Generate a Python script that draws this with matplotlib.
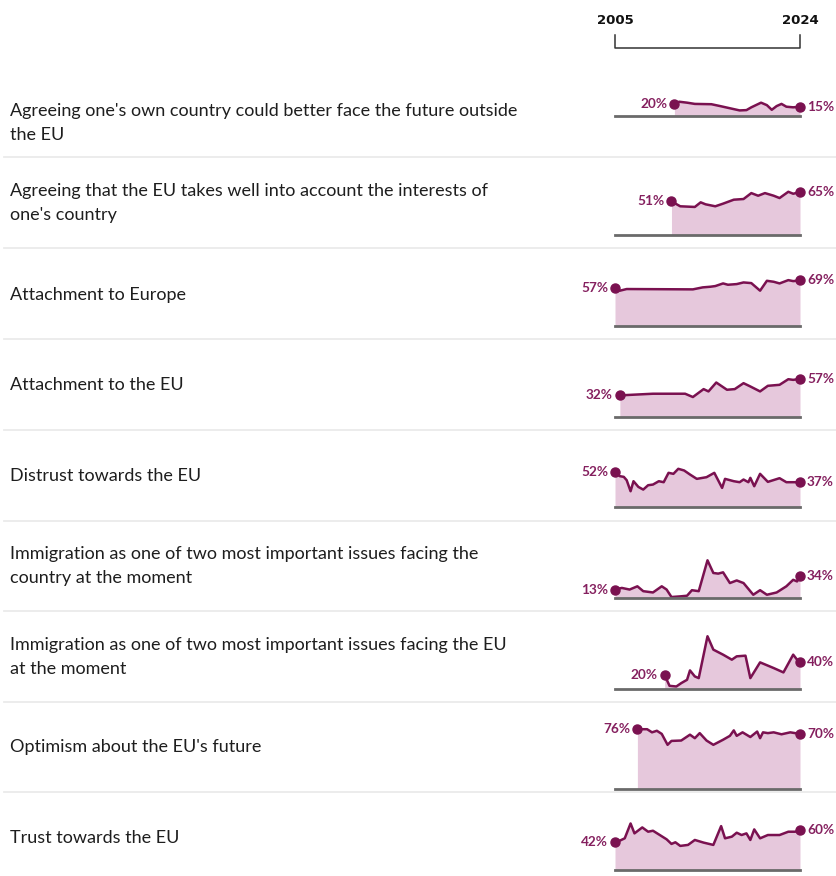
import matplotlib.pyplot as plt
from matplotlib.lines import Line2D

# ---- data (Eurobarometer shares, %) ----
labels = [
    "Agreeing one's own country could better face the future outside\nthe EU",
    "Agreeing that the EU takes well into account the interests of\none's country",
    "Attachment to Europe",
    "Attachment to the EU",
    "Distrust towards the EU",
    "Immigration as one of two most important issues facing the\ncountry at the moment",
    "Immigration as one of two most important issues facing the EU\nat the moment",
    "Optimism about the EU's future",
    "Trust towards the EU",
]

years_outside = [2011.1, 2011.6, 2012.4, 2013.2, 2014.9, 2015.8, 2016.8, 2017.8, 2018.5, 2019.0,
                 2020.0, 2020.6, 2021.1, 2021.6, 2022.1, 2022.6, 2023.3, 2024.0]
vals_outside = [20, 23, 21.5, 19.5, 19, 16, 12.5, 9, 9.5, 14, 21.5, 17.5, 10, 16, 19.5, 15, 14, 15]

years_interests = [2010.8, 2011.7, 2013.2, 2013.8, 2014.3, 2015.3, 2016.1, 2017.2, 2018.2, 2019.0,
                   2019.7, 2020.4, 2021.3, 2021.9, 2022.8, 2023.3, 2024.0]
vals_interests = [51, 43.5, 42.5, 49.5, 46.5, 43.5, 47.5, 53.5, 54.5, 63.5, 59.5, 63.5, 59.5, 56,
                  65.5, 62.5, 65]

years_europe = [2005.0, 2005.5, 2006.2, 2013.0, 2014.0, 2014.8, 2015.3, 2016.1, 2016.6, 2017.5,
                2018.2, 2019.0, 2019.9, 2020.6, 2021.3, 2021.9, 2022.8, 2023.3, 2024.0]
vals_europe = [57, 53.5, 56, 55.5, 58.5, 59.5, 60.5, 64.5, 62.5, 63.5, 66, 65, 53.5, 68.5, 67,
               64.5, 69.5, 68, 69]

years_eu = [2005.5, 2008.9, 2012.2, 2013.0, 2014.1, 2014.6, 2015.4, 2016.5, 2017.3, 2018.2,
            2018.9, 2019.9, 2020.7, 2021.9, 2022.8, 2023.3, 2024.0]
vals_eu = [32, 34.5, 34.5, 29.5, 41.5, 38, 51.5, 40.5, 41.5, 50.5, 45.5, 38, 46.5, 48, 56.5,
           55.5, 57]

years_distrust = [2005.0, 2005.5, 2005.9, 2006.2, 2006.6, 2006.9, 2007.4, 2007.9, 2008.4, 2008.9,
                  2009.5, 2010.0, 2010.5, 2011.0, 2011.5, 2012.1, 2012.7, 2013.4, 2014.4, 2015.2,
                  2016.0, 2016.3, 2017.2, 2017.8, 2018.2, 2018.7, 2018.9, 2019.3, 2019.9, 2020.7,
                  2021.9, 2022.6, 2023.3, 2024.0]
vals_distrust = [52, 46, 45, 40, 23.5, 38.5, 30, 26, 32.5, 33.5, 38.5, 37, 51, 49.5, 57, 54.5,
                 48.5, 42, 44.5, 51, 28.5, 42, 38.5, 37, 41, 37, 43.5, 31, 49.5, 37.5, 43, 37,
                 37, 37]

years_imm_country = [2005.0, 2005.7, 2006.5, 2007.3, 2007.9, 2008.9, 2009.8, 2010.3, 2010.8, 2011.7,
                     2012.4, 2012.9, 2013.6, 2014.5, 2015.1, 2015.6, 2016.1, 2016.8, 2017.5, 2018.2,
                     2019.2, 2019.9, 2020.6, 2021.6, 2022.6, 2023.3, 2023.7, 2024.0]
vals_imm_country = [13, 15.5, 13, 18, 10.5, 8.5, 18, 13, 1.5, 2.5, 3.5, 12, 10.5, 58, 38.5, 37.5,
                    39.5, 23, 27, 23, 5, 12, 5, 8.5, 18, 28, 25.5, 34]

years_imm_eu = [2010.1, 2010.6, 2011.3, 2011.8, 2012.4, 2012.7, 2013.2, 2013.6, 2014.5, 2015.1,
                2016.1, 2017.0, 2017.5, 2018.4, 2018.9, 2019.9, 2021.3, 2022.3, 2023.3, 2023.7,
                2024.0]
vals_imm_eu = [20, 4, 3, 8, 13, 27, 18, 15.5, 78, 58, 50.5, 43, 48, 49, 15.5, 39, 30.5, 24, 50.5,
               43, 40]

years_optimism = [2007.3, 2008.3, 2008.8, 2009.3, 2009.8, 2010.4, 2010.8, 2011.8, 2012.7, 2013.2,
                  2013.7, 2014.4, 2015.1, 2016.1, 2016.8, 2017.2, 2017.5, 2018.1, 2018.9, 2019.6,
                  2019.9, 2020.2, 2020.7, 2021.3, 2022.1, 2023.0, 2024.0]
vals_optimism = [76, 76, 72, 74, 70, 56, 61, 61.5, 69, 64.5, 71, 61.5, 56, 62.5, 67.5, 74.5, 67.5,
                 72, 66, 73, 64.5, 72, 71, 72, 69.5, 72, 70]

years_trust = [2005.0, 2005.5, 2006.0, 2006.6, 2007.0, 2007.8, 2008.4, 2008.9, 2009.6, 2010.3,
               2010.8, 2011.2, 2011.7, 2012.5, 2013.2, 2014.1, 2015.1, 2015.9, 2016.3, 2017.0,
               2017.5, 2018.0, 2018.5, 2018.9, 2019.3, 2019.9, 2020.7, 2021.9, 2022.8, 2023.5,
               2024.0]
vals_trust = [42, 44.5, 48, 70.5, 55.5, 64.5, 58, 59.5, 53, 46.5, 39.5, 42, 36.5, 38, 45.5, 41.5,
              38, 66.5, 48, 50.5, 56.5, 53, 55.5, 45.5, 61.5, 48, 53, 53, 58, 58, 60]

series_years = [years_outside, years_interests, years_europe, years_eu, years_distrust,
                years_imm_country, years_imm_eu, years_optimism, years_trust]
series_vals = [vals_outside, vals_interests, vals_europe, vals_eu, vals_distrust,
               vals_imm_country, vals_imm_eu, vals_optimism, vals_trust]
start_labels = ["20%", "51%", "57%", "32%", "52%", "13%", "20%", "76%", "42%"]
end_labels = ["15%", "65%", "69%", "57%", "37%", "34%", "40%", "70%", "60%"]

# ---- layout (pixels) ----
W, H = 837, 876
baselines = [116, 235, 326, 416.5, 507, 598, 688.5, 788.5, 870]
px_per_pct = [0.62, 0.66, 0.66, 0.66, 0.67, 0.65, 0.67, 0.78, 0.66]
label_y = [123, 203, 295, 385, 476, 566, 657, 747, 838]
separators = [157, 248, 339, 430, 520.5, 611, 702, 792]
x0, x1 = 615, 800

LINE = '#7a1150'
FILL = '#e6c8dc'
PCT = '#85205f'
FONT = 'Lato'

fig = plt.figure(figsize=(W / 100, H / 100), dpi=100)


def fx(x):
    return x / W


def fy(y):
    return 1 - y / H


# header bracket
fig.add_artist(Line2D([fx(x0), fx(x0), fx(x1), fx(x1)], [fy(35), fy(48), fy(48), fy(35)],
                      color='#333333', lw=1.1))
fig.text(fx(x0), fy(20), "2005", ha='center', va='center', fontsize=9.5,
         fontweight='bold', family='DejaVu Sans', color='#111111')
fig.text(fx(x1), fy(20), "2024", ha='center', va='center', fontsize=9.5,
         fontweight='bold', family='DejaVu Sans', color='#111111')

for y in separators:
    fig.add_artist(Line2D([0.005, 1], [fy(y), fy(y)], color='#ebebeb', lw=1.3))

for i in range(len(labels)):
    fig.text(fx(10), fy(label_y[i]), labels[i], ha='left', va='center', fontsize=13,
             family=FONT, color='#1e1e1e', linespacing=1.6)

    ax = fig.add_axes([fx(x0), fy(baselines[i]), (x1 - x0) / W,
                       px_per_pct[i] * 100 / H])
    yrs, vals = series_years[i], series_vals[i]
    ax.fill_between(yrs, vals, 0, color=FILL, lw=0)
    ax.plot(yrs, vals, color=LINE, lw=1.8, solid_joinstyle='round', solid_capstyle='round')
    ax.axhline(0, color='#6a6a6a', lw=2.0, clip_on=False)
    ax.plot([yrs[0], yrs[-1]], [vals[0], vals[-1]], 'o', color=LINE, ms=6.5, clip_on=False)
    ax.annotate(start_labels[i], (yrs[0], vals[0]), xytext=(-5, 0), textcoords='offset points',
                ha='right', va='center', fontsize=9.8, fontweight='bold', family=FONT, color=PCT)
    ax.annotate(end_labels[i], (yrs[-1], vals[-1]), xytext=(5, 0), textcoords='offset points',
                ha='left', va='center', fontsize=9.8, fontweight='bold', family=FONT, color=PCT)
    ax.set_xlim(2005, 2024)
    ax.set_ylim(0, 100)
    ax.axis('off')

fig.savefig('out.png', dpi=100)
